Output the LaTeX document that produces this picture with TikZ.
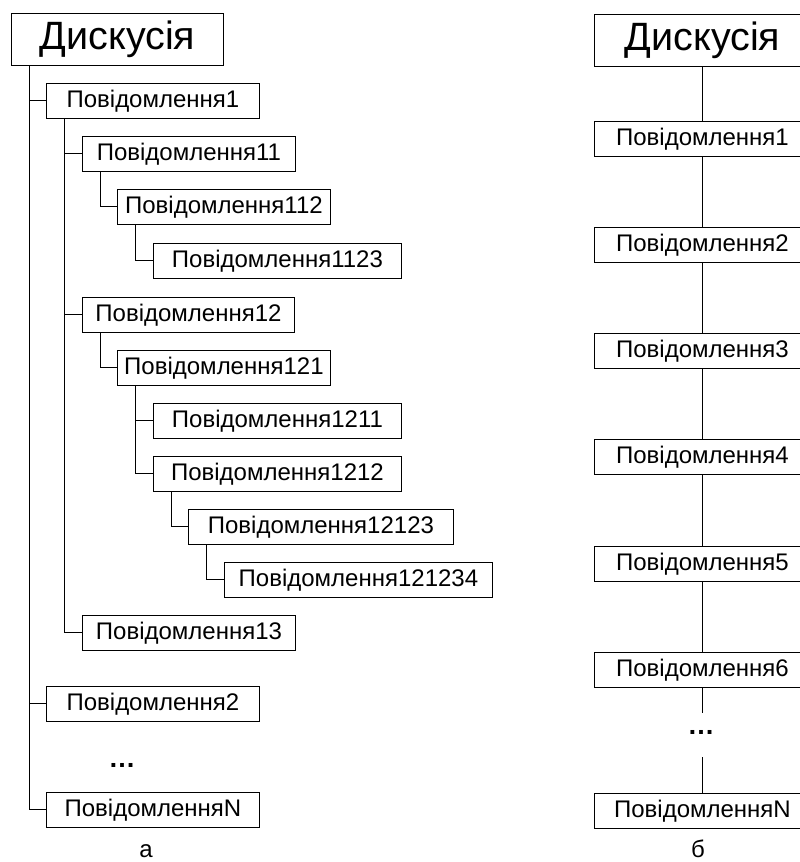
\documentclass[tikz,border=0pt]{standalone}
\usepackage{fontspec}
\setmainfont{Liberation Sans}
\begin{document}
\begin{tikzpicture}[x=1pt,y=-1pt,
  line width=1pt,
  msg/.style={draw, line width=0.9pt, anchor=north west, minimum height=35pt, inner sep=0pt, font=\fontsize{24}{28}\selectfont},
  rootbox/.style={draw, line width=0.9pt, anchor=north west, minimum height=52pt, inner sep=0pt, font=\fontsize{39.5}{44}\selectfont},
  lbl/.style={inner sep=0pt, anchor=base, font=\fontsize{24}{28}\selectfont},
  dotsl/.style={inner sep=0pt, anchor=base, font=\bfseries\fontsize{27}{32}\selectfont},
  conn/.style={line width=1pt}
]
\clip (0,0) rectangle (800,862);
% ---------- left tree (a) ----------
\node[rootbox, minimum width=212pt] (r) at (11,13) {Дискусія};
\node[msg, minimum width=213pt] (p1) at (46,83) {Повідомлення1};
\node[msg, minimum width=213pt] (p11) at (82,136) {Повідомлення11};
\node[msg, minimum width=213pt] (p112) at (117,189) {Повідомлення112};
\node[msg, minimum width=248pt] (p1123) at (153,243) {Повідомлення1123};
\node[msg, minimum width=212pt] (p12) at (82,297) {Повідомлення12};
\node[msg, minimum width=213pt] (p121) at (117,350) {Повідомлення121};
\node[msg, minimum width=248pt] (p1211) at (153,403) {Повідомлення1211};
\node[msg, minimum width=248pt] (p1212) at (153,456) {Повідомлення1212};
\node[msg, minimum width=265pt] (p12123) at (188,509) {Повідомлення12123};
\node[msg, minimum width=268pt] (p121234) at (224,562) {Повідомлення121234};
\node[msg, minimum width=213pt] (p13) at (82,615) {Повідомлення13};
\node[msg, minimum width=213pt] (p2) at (46,686) {Повідомлення2};
\node[dotsl] (ldots) at (122,767) {…};
\node[msg, minimum width=213pt] (pN) at (46,792) {ПовідомленняN};
\node[lbl] (la) at (146,857) {а};

\coordinate (cr) at ([xshift=18pt]r.south west);
\coordinate (c1) at ([xshift=18pt]p1.south west);
\coordinate (c11) at ([xshift=18pt]p11.south west);
\coordinate (c112) at ([xshift=18pt]p112.south west);
\coordinate (c12) at ([xshift=18pt]p12.south west);
\coordinate (c121) at ([xshift=18pt]p121.south west);
\coordinate (c1212) at ([xshift=18pt]p1212.south west);
\coordinate (c12123) at ([xshift=18pt]p12123.south west);

\draw[conn] (cr) |- (pN.west);
\draw[conn] (p1.west) -- (p1.west -| cr);
\draw[conn] (p2.west) -- (p2.west -| cr);
\draw[conn] (c1) |- (p13.west);
\draw[conn] (p11.west) -- (p11.west -| c1);
\draw[conn] (p12.west) -- (p12.west -| c1);
\draw[conn] (c11) |- (p112.west);
\draw[conn] (c112) |- (p1123.west);
\draw[conn] (c12) |- (p121.west);
\draw[conn] (c121) |- (p1212.west);
\draw[conn] (p1211.west) -- (p1211.west -| c121);
\draw[conn] (c1212) |- (p12123.west);
\draw[conn] (c12123) |- (p121234.west);

% ---------- right chain (b) ----------
\node[rootbox, minimum width=216pt] (R) at (594,14) {Дискусія};
\node[msg, minimum width=216pt] (q1) at (594,121) {Повідомлення1};
\node[msg, minimum width=216pt] (q2) at (594,227) {Повідомлення2};
\node[msg, minimum width=216pt] (q3) at (594,333) {Повідомлення3};
\node[msg, minimum width=216pt] (q4) at (594,439) {Повідомлення4};
\node[msg, minimum width=216pt] (q5) at (594,546) {Повідомлення5};
\node[msg, minimum width=216pt] (q6) at (594,652) {Повідомлення6};
\node[dotsl] (rdots) at (701,734) {…};
\node[msg, minimum width=216pt] (qN) at (594,793) {ПовідомленняN};
\node[lbl] (lb) at (698,857) {б};

\coordinate (g1) at (q6.south |- 0,713);
\coordinate (g2) at (qN.north |- 0,757);
\draw[line width=0.8pt] (R.south) -- (q1.north);
\draw[line width=0.8pt] (q1.south) -- (q2.north);
\draw[line width=0.8pt] (q2.south) -- (q3.north);
\draw[line width=0.8pt] (q3.south) -- (q4.north);
\draw[line width=0.8pt] (q4.south) -- (q5.north);
\draw[line width=0.8pt] (q5.south) -- (q6.north);
\draw[line width=0.8pt] (q6.south) -- (g1);
\draw[line width=0.8pt] (g2) -- (qN.north);
\end{tikzpicture}
\end{document}
